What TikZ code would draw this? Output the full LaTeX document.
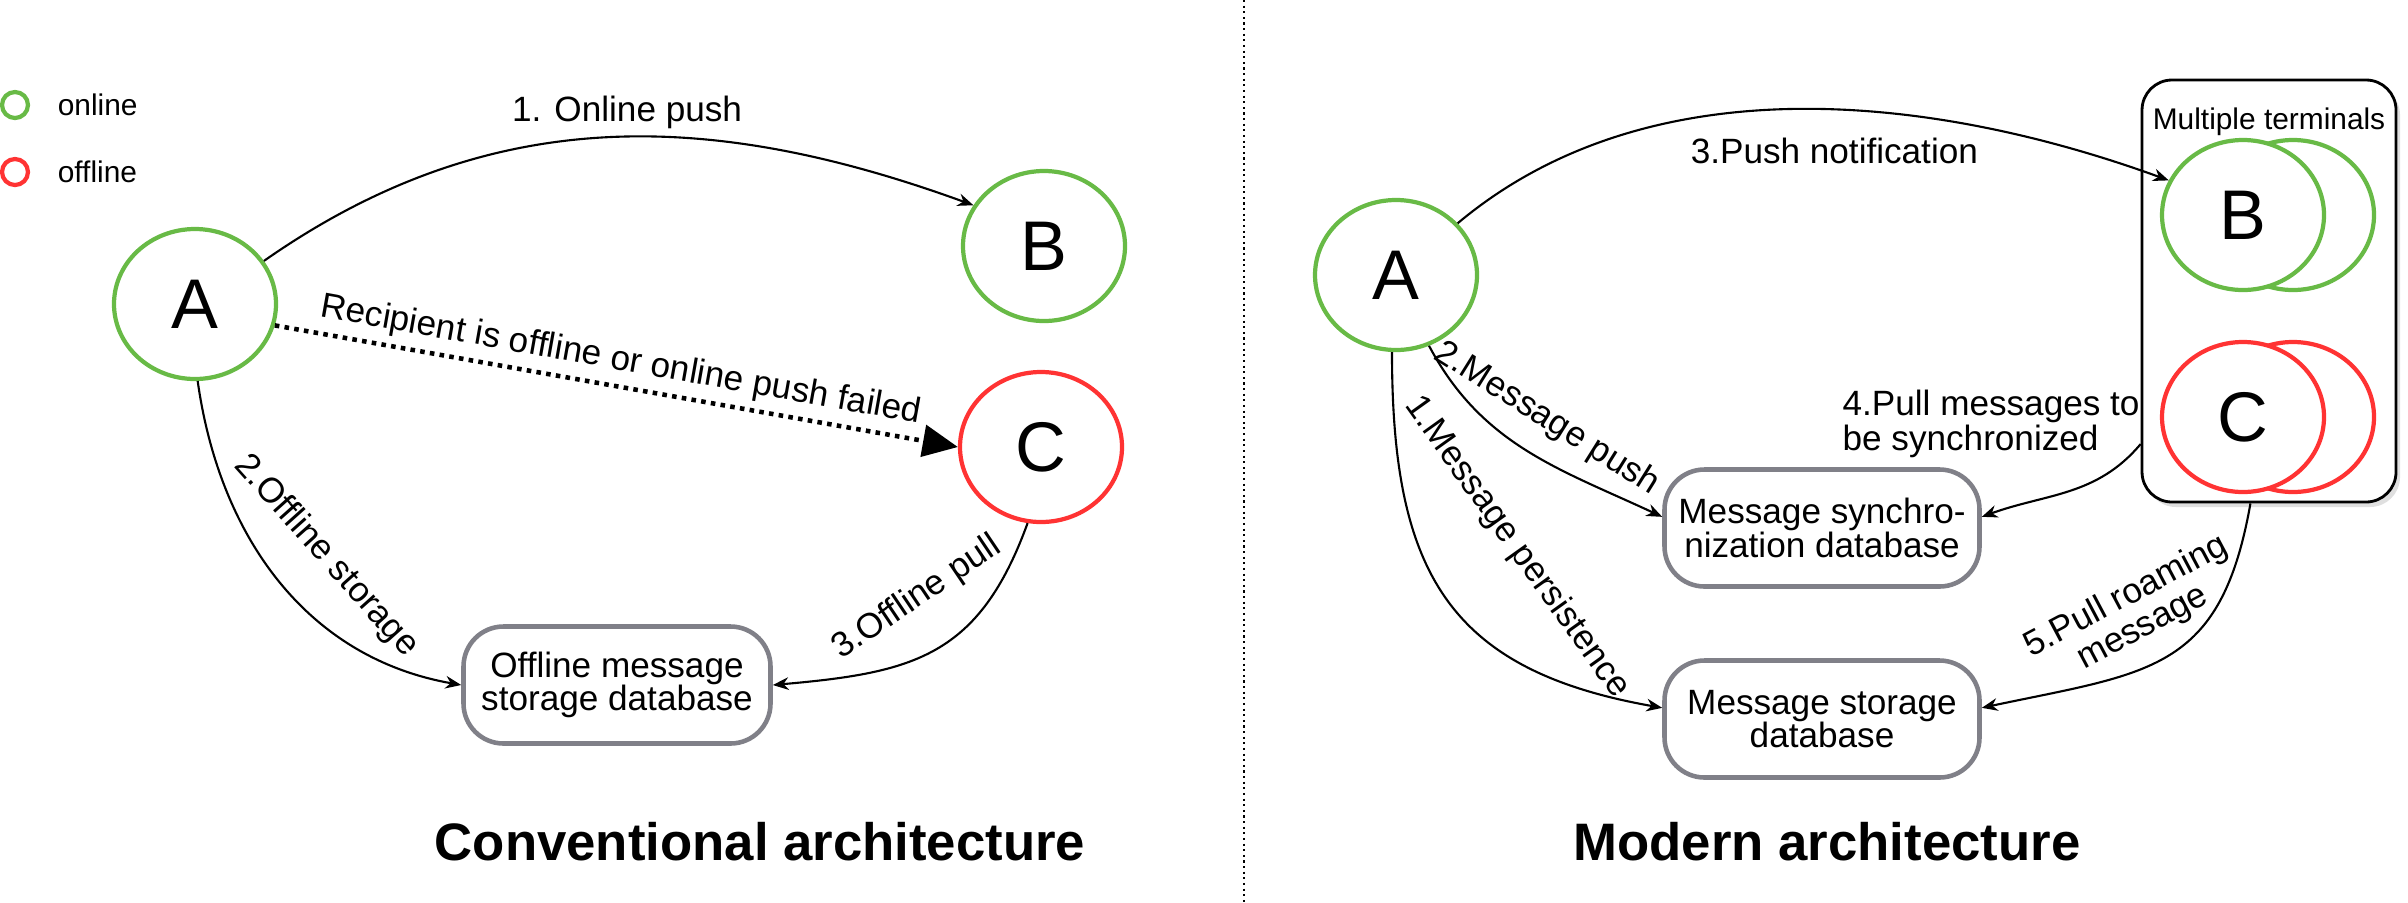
\documentclass[tikz,border=0pt]{standalone}
\usepackage{fontspec}
\setmainfont{Liberation Sans}
\usepackage{xcolor}
\usepackage{tikz}
\usetikzlibrary{arrows.meta,positioning,shapes.geometric,shadows}

\definecolor{ongreen}{RGB}{104,186,70}
\definecolor{offred}{RGB}{255,51,51}
\definecolor{dbgray}{RGB}{128,128,136}

\begin{document}
\begin{tikzpicture}[
    user/.style={ellipse, draw, line width=1.2pt, minimum width=1.62cm, minimum height=1.5cm, inner sep=0pt, fill=white, font=\fontsize{20}{20}\selectfont},
    onl/.style={user, draw=ongreen},
    offl/.style={user, draw=offred},
    db/.style={draw=dbgray, line width=1.3pt, rounded corners=0.4cm, minimum width=3.15cm, minimum height=1.17cm, align=center, font=\fontsize{10}{9.5}\selectfont},
    arr/.style={-{Stealth[length=4.5pt,width=3.6pt]}, line width=0.6pt},
    lbl/.style={font=\fontsize{10}{10}\selectfont, inner sep=2pt},
    dot/.style={circle, draw, line width=1.2pt, minimum size=0.26cm, inner sep=0pt},
    head/.style={font=\fontsize{15}{15}\selectfont\bfseries}
  ]
    \useasboundingbox (0,0) rectangle (24.08,9.02);

    % legend
    \node[dot, draw=ongreen] (lon) at (0.15,7.97) {};
    \node[lbl, right=0.2cm of lon, font=\fontsize{8.5}{8.5}\selectfont] (lontxt) {online};
    \node[dot, draw=offred] (loff) at (0.15,7.30) {};
    \node[lbl, right=0.2cm of loff, font=\fontsize{8.5}{8.5}\selectfont] (lofftxt) {offline};

    % conventional architecture
    \node[onl] (a1) at (1.95,5.98) {A};
    \node[onl] (b1) at (10.44,6.56) {B};
    \node[offl] (c1) at (10.41,4.55) {C};
    \node[db, minimum width=3.07cm] (offdb) at (6.17,2.17) {Offline message\\storage database};
    \node[head] (t1) at (7.60,0.60) {Conventional architecture};

    \draw[arr] (a1.32) to[out=35,in=160] node[lbl, above, pos=0.53] {1. Online push} (b1.150);
    \draw[-{Triangle[length=10pt,width=9pt]}, line width=1.3pt, dash pattern=on 1.3pt off 1.5pt] (a1.-15) -- node[lbl, above, sloped] {Recipient is offline or online push failed} (c1.west);
    \draw[arr] (a1.-88) to[out=-82,in=170] node[lbl, above=0.27cm, sloped, pos=0.53] {2.Offline storage} (offdb.west);
    \draw[arr] (c1.-100) to[out=-110,in=5,looseness=1.2] node[lbl, above=0.29cm, sloped, pos=0.45] {3.Offline pull} (offdb.east);

    % divider
    \coordinate (dtop) at (12.44,9.02);
    \coordinate (dbot) at (12.44,0);
    \draw[line width=0.6pt, densely dotted] (dtop) -- (dbot);

    % modern architecture
    \node[onl] (a2) at (13.96,6.27) {A};
    \node[db] (sync) at (18.22,3.74) {Message synchro-\\nization database};
    \node[db] (store) at (18.22,1.83) {Message storage\\database};
    \node[head] (t2) at (18.27,0.60) {Modern architecture};

    \node[draw, line width=0.8pt, rounded corners=0.3cm, fill=white, minimum width=2.54cm, minimum height=4.22cm,
          drop shadow={opacity=0.25, shadow xshift=0.04cm, shadow yshift=-0.05cm}] (term) at (22.69,6.11) {};
    \node[font=\fontsize{8.5}{8.5}\selectfont, below=0.17cm of term.north] (mt) {Multiple terminals};
    \node[onl] (b2back) at (22.93,6.87) {};
    \node[onl] (b2) at (22.43,6.87) {B};
    \node[offl] (c2back) at (22.93,4.85) {};
    \node[offl] (c2) at (22.43,4.85) {C};

    \draw[arr] (a2.40) to[out=40,in=160,looseness=0.9] node[lbl, below=0.2cm, pos=0.55] {3.Push notification} (b2.155);
    \draw[arr] (a2.-65) to[out=-62,in=155] node[lbl, above=0.13cm, sloped] {2.Message push} (sync.176);
    \draw[arr] (a2.-93) to[out=-90,in=170,looseness=1.25] node[lbl, above=0.62cm, sloped] {1.Message persistence} (store.176);
    \draw[arr] (term.230) to[out=-130,in=20] node[lbl, pos=0, anchor=south east, align=left, inner sep=0pt, yshift=-0.15cm] {4.Pull messages to\\be synchronized} (sync.4);
    \draw[arr] (term.-95) to[out=-100,in=12,looseness=1.3] node[lbl, above=0.12cm, sloped, align=center, pos=0.53] {5.Pull roaming\\message} (store.4);
  \end{tikzpicture}
\end{document}
